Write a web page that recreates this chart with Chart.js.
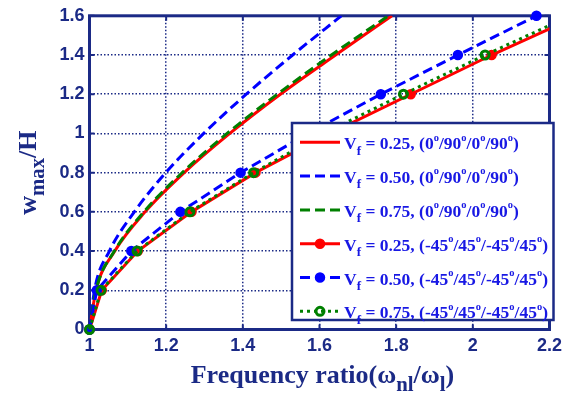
<!DOCTYPE html>
<html>
<head>
<meta charset="utf-8">
<script src="https://cdn.jsdelivr.net/npm/chart.js@4"></script>
<style>
  html, body { margin: 0; padding: 0; background: #fff; }
</style>
</head>
<body>
<canvas id="myChart" width="568" height="395"></canvas>
<script>
// Deflection levels (w_max/H) shared by all curves
const wLevels = [0, 0.2, 0.4, 0.6, 0.8, 1.0, 1.2, 1.4, 1.6];

// Frequency ratios, cross-ply (0/90/0/90)
const ratioCross25 = [1, 1.017, 1.066, 1.145, 1.247, 1.366, 1.498, 1.642, 1.789];
const ratioCross50 = [1, 1.013, 1.052, 1.117, 1.199, 1.298, 1.409, 1.530, 1.657];
const ratioCross75 = [1, 1.017, 1.065, 1.142, 1.242, 1.359, 1.490, 1.631, 1.780];

// Frequency ratios, angle-ply (-45/45/-45/45)
const ratioAngle25 = [1, 1.032, 1.126, 1.266, 1.433, 1.628, 1.838, 2.049, 2.276];
const ratioAngle50 = [1, 1.019, 1.109, 1.237, 1.394, 1.570, 1.760, 1.961, 2.166];
const ratioAngle75 = [1, 1.030, 1.124, 1.262, 1.428, 1.612, 1.819, 2.032, 2.255];

const seriesLabels = [
  'V_f = 0.25, (0^o/90^o/0^o/90^o)',
  'V_f = 0.50, (0^o/90^o/0^o/90^o)',
  'V_f = 0.75, (0^o/90^o/0^o/90^o)',
  'V_f = 0.25, (-45^o/45^o/-45^o/45^o)',
  'V_f = 0.50, (-45^o/45^o/-45^o/45^o)',
  'V_f = 0.75, (-45^o/45^o/-45^o/45^o)'
];

const xTicks = ['1', '1.2', '1.4', '1.6', '1.8', '2', '2.2'];
const yTicks = ['0', '0.2', '0.4', '0.6', '0.8', '1', '1.2', '1.4', '1.6'];

const xTitle = 'Frequency ratio(\u03c9_{nl}/\u03c9_l)';
const yTitle = 'w_{max}/H';

const NAVY = '#1b2a86';
const TEXT_BLUE = '#1818e4';
const SERIF = '"Liberation Serif", "Times New Roman", serif';
const SANS = '"Liberation Sans", Arial, sans-serif';

function toPoints(ratios) {
  return ratios.map((r, i) => ({ x: r, y: wLevels[i] }));
}

// Split "a_{b}c^d" into plain / subscript / superscript pieces
function parseRich(str) {
  const parts = [];
  let buf = '';
  for (let i = 0; i < str.length; i++) {
    const ch = str[i];
    if (ch === '_' || ch === '^') {
      if (buf) { parts.push({ text: buf, shift: 0 }); buf = ''; }
      let piece;
      if (str[i + 1] === '{') {
        const end = str.indexOf('}', i);
        piece = str.slice(i + 2, end);
        i = end;
      } else {
        piece = str[i + 1];
        i++;
      }
      parts.push({ text: piece, shift: ch === '_' ? 1 : -1 });
    } else {
      buf += ch;
    }
  }
  if (buf) parts.push({ text: buf, shift: 0 });
  return parts;
}

function drawRich(ctx, str, x, y, size, align, o) {
  const parts = parseRich(str);
  const fontFor = p => {
    const s = p.shift > 0 ? size * o.subScale : p.shift < 0 ? size * o.supScale : size;
    return 'bold ' + s + 'px ' + SERIF;
  };
  let total = 0;
  parts.forEach(p => {
    ctx.font = fontFor(p);
    p.w = ctx.measureText(p.text).width;
    total += p.w;
  });
  let cx = align === 'center' ? x - total / 2 : x;
  ctx.textAlign = 'left';
  ctx.textBaseline = 'alphabetic';
  parts.forEach(p => {
    ctx.font = fontFor(p);
    const dy = p.shift > 0 ? size * o.subShift : p.shift < 0 ? -size * o.supShift : 0;
    ctx.fillText(p.text, cx, y + dy);
    cx += p.w;
  });
}

const datasets = [
  { data: toPoints(ratioCross25), borderColor: '#ff0000', borderWidth: 3, pointRadius: 0,
    cubicInterpolationMode: 'monotone' },
  { data: toPoints(ratioCross50), borderColor: '#0000ff', borderWidth: 3, pointRadius: 0,
    borderDash: [10, 5], cubicInterpolationMode: 'monotone' },
  { data: toPoints(ratioCross75), borderColor: '#008000', borderWidth: 3, pointRadius: 0,
    borderDash: [10, 5], cubicInterpolationMode: 'monotone' },
  { data: toPoints(ratioAngle25), borderColor: '#ff0000', borderWidth: 3,
    pointRadius: 4.5, pointBorderWidth: 1.5, pointBackgroundColor: '#ff0000', pointBorderColor: '#ff0000',
    clip: { left: 8, top: 8, right: 0, bottom: 8 } },
  { data: toPoints(ratioAngle50), borderColor: '#0000ff', borderWidth: 3, borderDash: [10, 5],
    pointRadius: 4.5, pointBorderWidth: 1.5, pointBackgroundColor: '#0000ff', pointBorderColor: '#0000ff',
    clip: { left: 8, top: 8, right: 0, bottom: 8 } },
  { data: toPoints(ratioAngle75), borderColor: '#008000', borderWidth: 3, borderDash: [3, 4],
    pointRadius: 4, pointBorderWidth: 3, pointBackgroundColor: 'rgba(0,0,0,0)', pointBorderColor: '#008000',
    clip: { left: 8, top: 8, right: 0, bottom: 8 } }
];
// later series are drawn over earlier ones
datasets.forEach((d, i) => {
  d.label = seriesLabels[i];
  d.order = datasets.length - 1 - i;
  d.fill = false;
  d.tension = 0;
});

// Box, inward ticks, titles and the legend panel
const framePlugin = {
  id: 'frame',
  beforeDatasetsDraw(chart) {
    const { ctx, chartArea: a, scales } = chart;
    ctx.save();
    ctx.strokeStyle = NAVY;
    ctx.lineWidth = 2;
    ctx.setLineDash([]);
    ctx.beginPath();
    xTicks.forEach(t => {
      const px = scales.x.getPixelForValue(parseFloat(t));
      ctx.moveTo(px, a.bottom); ctx.lineTo(px, a.bottom - 5);
      ctx.moveTo(px, a.top); ctx.lineTo(px, a.top + 5);
    });
    yTicks.forEach(t => {
      const py = scales.y.getPixelForValue(parseFloat(t));
      ctx.moveTo(a.left, py); ctx.lineTo(a.left + 5, py);
      ctx.moveTo(a.right, py); ctx.lineTo(a.right - 5, py);
    });
    ctx.stroke();
    ctx.lineWidth = 3;
    ctx.strokeRect(a.left, a.top, a.right - a.left, a.bottom - a.top);
    ctx.restore();
  },
  afterDatasetsDraw(chart) {
    const { ctx } = chart;
    const box = { left: 292, top: 123, right: 553.5, bottom: 320 };
    ctx.save();
    ctx.fillStyle = '#ffffff';
    ctx.fillRect(box.left, box.top, box.right - box.left, box.bottom - box.top);
    ctx.strokeStyle = NAVY;
    ctx.lineWidth = 2.5;
    ctx.strokeRect(box.left, box.top, box.right - box.left, box.bottom - box.top);

    chart.data.datasets.forEach((ds, i) => {
      const cy = 142.3 + i * 33.8;
      ctx.setLineDash(ds.borderDash || []);
      ctx.strokeStyle = ds.borderColor;
      ctx.lineWidth = ds.borderWidth;
      ctx.lineCap = 'butt';
      ctx.beginPath();
      ctx.moveTo(300, cy);
      ctx.lineTo(340, cy);
      ctx.stroke();
      if (ds.pointRadius) {
        ctx.setLineDash([]);
        ctx.beginPath();
        ctx.arc(320, cy, ds.pointRadius, 0, Math.PI * 2);
        ctx.fillStyle = ds.pointBackgroundColor;
        ctx.fill();
        ctx.lineWidth = ds.pointBorderWidth;
        ctx.strokeStyle = ds.pointBorderColor;
        ctx.stroke();
      }
      ctx.fillStyle = TEXT_BLUE;
      drawRich(ctx, ds.label, 344, cy + 7, 17.5, 'left',
        { subScale: 0.75, subShift: 0.3, supScale: 0.6, supShift: 0.5 });
    });
    ctx.restore();
  },
  afterDraw(chart) {
    const { ctx, chartArea: a } = chart;
    const titleOpts = { subScale: 0.8, subShift: 0.3, supScale: 0.8, supShift: 0.4 };
    ctx.save();
    ctx.fillStyle = NAVY;
    drawRich(ctx, xTitle, (a.left + a.right) / 2 + 3, 383, 26, 'center', titleOpts);
    ctx.translate(36, (a.top + a.bottom) / 2);
    ctx.rotate(-Math.PI / 2);
    drawRich(ctx, yTitle, 0, 0, 26, 'center', titleOpts);
    ctx.restore();
  }
};

const tickFont = { family: SANS, size: 18, weight: 'bold' };

new Chart(document.getElementById('myChart').getContext('2d'), {
  type: 'line',
  data: { datasets: datasets },
  options: {
    responsive: false,
    animation: false,
    layout: { padding: { top: 14, right: 14.5, bottom: 0, left: 0 } },
    plugins: {
      legend: { display: false },
      tooltip: { enabled: false }
    },
    scales: {
      x: {
        type: 'linear',
        min: 1,
        max: 2.2,
        afterBuildTicks: s => { s.ticks = xTicks.map(t => ({ value: parseFloat(t) })); },
        afterFit: s => { s.height = 65.5; },
        ticks: { color: NAVY, font: tickFont, padding: 6, maxRotation: 0, autoSkip: false,
          callback: (v, i) => xTicks[i] },
        grid: { color: NAVY, lineWidth: 1.5, drawTicks: false },
        border: { display: false, dash: [1.5, 2] }
      },
      y: {
        type: 'linear',
        min: 0,
        max: 1.6,
        afterBuildTicks: s => { s.ticks = yTicks.map(t => ({ value: parseFloat(t) })); },
        afterFit: s => { s.width = 89.5; },
        ticks: { color: NAVY, font: tickFont, padding: 5, autoSkip: false,
          callback: (v, i) => yTicks[i] },
        grid: { color: NAVY, lineWidth: 1.5, drawTicks: false },
        border: { display: false, dash: [1.5, 2] }
      }
    }
  },
  plugins: [framePlugin]
});
</script>
</body>
</html>
